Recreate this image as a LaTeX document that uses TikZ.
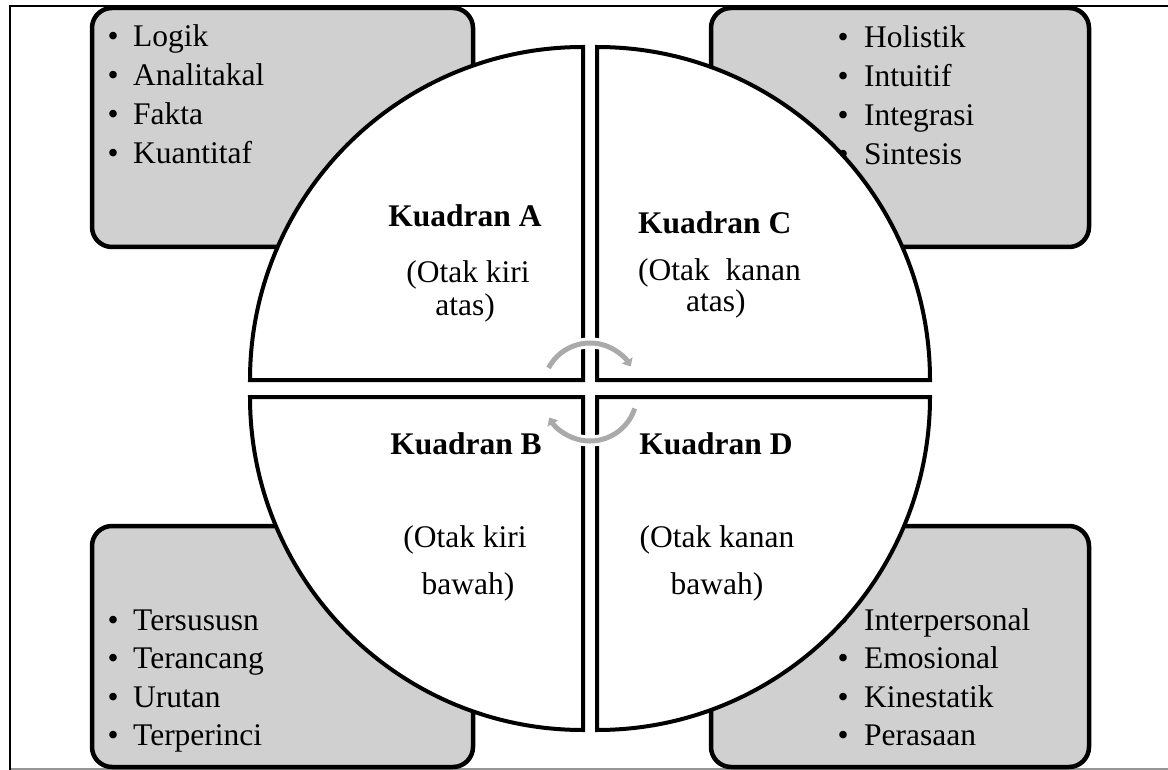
\documentclass[tikz,border=0pt]{standalone}
\usepackage{fontspec}
\setmainfont{Liberation Serif}
\usetikzlibrary{arrows.meta}
\definecolor{boxgray}{RGB}{208,208,208}
\definecolor{arcgray}{RGB}{170,170,170}
\definecolor{framegray}{RGB}{150,150,150}
\begin{document}
\begin{tikzpicture}[x=1pt,y=1pt,
  greybox/.style={fill=boxgray, draw=black, line width=4.5pt, rounded corners=20pt},
  quad/.style={fill=white, draw=black, line width=4pt, line join=miter},
  txt/.style={font=\fontsize{31.5}{38}\selectfont, inner sep=0pt, anchor=base west},
  lbl/.style={font=\fontsize{31.5}{38}\selectfont, inner sep=0pt, anchor=base},
  blbl/.style={lbl, font=\fontsize{31.5}{38}\selectfont\bfseries},
  turnarrow/.style={draw=arcgray, line width=5pt, -{Triangle[length=7pt,width=12pt]}},
  turnback/.style={draw=white, line width=11pt}]
\useasboundingbox (0,0) rectangle (1168,-770);
% frame
\draw[framegray, line width=1.5pt] (10,-769) -- (1168,-769);
\draw[black, line width=2pt] (1168,-6) -- (10,-6) -- (10,-770);
% grey boxes
\draw[greybox] (92,-8) rectangle (473,-247);
\draw[greybox] (711,-8) rectangle (1089,-247);
\draw[greybox] (92,-526) rectangle (473,-767);
\draw[greybox] (711,-526) rectangle (1089,-767);
% bullet lists
\foreach \t [count=\i] in {Logik,Analitakal,Fakta,Kuantitaf}{
  \node[txt] (tl\i) at (133,{-47-38.7*(\i-1)}) {\t};
  \node[txt] (tlb\i) at (107.5,{-47-38.7*(\i-1)}) {•};
}
\foreach \t [count=\i] in {Holistik,Intuitif,Integrasi,Sintesis}{
  \node[txt] (tr\i) at (864,{-48-38.7*(\i-1)}) {\t};
  \node[txt] (trb\i) at (837.5,{-48-38.7*(\i-1)}) {•};
}
\foreach \t [count=\i] in {Tersususn,Terancang,Urutan,Terperinci}{
  \node[txt] (bl\i) at (133,{-630-38.5*(\i-1)}) {\t};
  \node[txt] (blb\i) at (107.5,{-630-38.5*(\i-1)}) {•};
}
\foreach \t [count=\i] in {Interpersonal,Emosional,Kinestatik,Perasaan}{
  \node[txt] (br\i) at (864,{-630-38.5*(\i-1)}) {\t};
  \node[txt] (brb\i) at (837.5,{-630-38.5*(\i-1)}) {•};
}
% quadrants
\draw[quad] (583,-380) -- ++(-333,0) arc[start angle=180, end angle=90, radius=333pt] -- cycle;
\draw[quad] (597,-380) -- ++(333,0) arc[start angle=0, end angle=90, radius=333pt] -- cycle;
\draw[quad] (583,-397) -- ++(-333,0) arc[start angle=180, end angle=270, radius=333pt] -- cycle;
\draw[quad] (597,-397) -- ++(333,0) arc[start angle=0, end angle=-90, radius=333pt] -- cycle;
% quadrant labels
\node[blbl] (qa) at (465,-227) {Kuadran A};
\node[lbl] (qa1) at (468,-283) {(Otak kiri};
\node[lbl] (qa2) at (465,-316) {atas)};
\node[blbl, anchor=base west] (qc) at (638,-234) {Kuadran C};
\node[lbl, anchor=base west] (qc1) at (638,-280) {(Otak\ \ kanan};
\node[lbl, anchor=base west] (qc2) at (686,-312) {atas)};
\node[blbl] (qb) at (466,-454) {Kuadran B};
\node[lbl] (qb1) at (465,-547) {(Otak kiri};
\node[lbl] (qb2) at (468,-594) {bawah)};
\node[blbl] (qd) at (716,-454) {Kuadran D};
\node[lbl] (qd1) at (717,-547) {(Otak kanan};
\node[lbl] (qd2) at (717,-594) {bawah)};
% turning arrows
\coordinate (cu) at (590,-390);
\coordinate (cl) at (590,-394);
\draw[turnback] ([shift={(152:47pt)}]cu) arc[start angle=152, end angle=34, radius=47pt];
\draw[turnarrow] ([shift={(152:47pt)}]cu) arc[start angle=152, end angle=30, radius=47pt];
\draw[turnback] ([shift={(-18:47pt)}]cl) arc[start angle=-18, end angle=-146, radius=47pt];
\draw[turnarrow] ([shift={(-18:47pt)}]cl) arc[start angle=-18, end angle=-150, radius=47pt];
\end{tikzpicture}
\end{document}
